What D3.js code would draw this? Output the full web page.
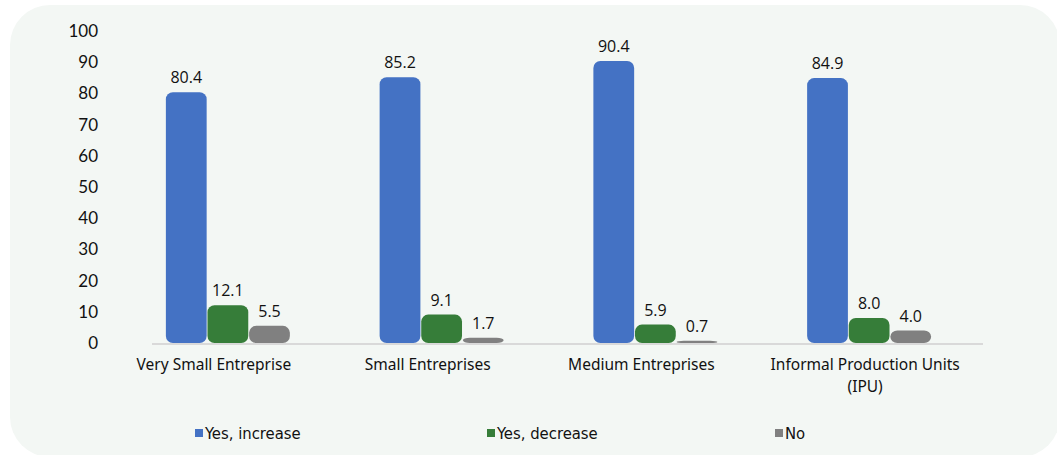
<!DOCTYPE html>
<html>
<head>
<meta charset="utf-8">
<script src="https://cdn.jsdelivr.net/npm/d3@7"></script>
<style>
  body { margin: 0; background: #ffffff; }
  svg { display: block; }
</style>
</head>
<body>
<svg id="chart"></svg>
<script>
// data
const categories = ['Very Small Entreprise', 'Small Entreprises', 'Medium Entreprises', 'Informal Production Units (IPU)'];
const seriesNames = ['Yes, increase', 'Yes, decrease', 'No'];
const increase = [80.4, 85.2, 90.4, 84.9];
const decrease = [12.1, 9.1, 5.9, 8.0];
const no = [5.5, 1.7, 0.7, 4.0];
const yTicks = [0, 10, 20, 30, 40, 50, 60, 70, 80, 90, 100];

const colors = ['#4472c4', '#367d39', '#808080'];

const width = 1057, height = 455;
const svg = d3.select('#chart').attr('width', width).attr('height', height);

// panel background
svg.append('rect')
    .attr('x', 10).attr('y', 5)
    .attr('width', 1050).attr('height', 452)
    .attr('rx', 40).attr('ry', 40)
    .attr('fill', '#f3f7f4');

const rows = categories.map((c, i) => ({
    group: c,
    values: [increase[i], decrease[i], no[i]]
}));

const xScale = d3.scaleBand()
    .domain(categories)
    .range([121, 976]);

const xSub = d3.scaleBand()
    .domain(seriesNames)
    .range([xScale.bandwidth() / 2 - 62, xScale.bandwidth() / 2 + 62])
    .paddingInner(0.02);

const yScale = d3.scaleLinear()
    .domain([0, 100])
    .range([343, 31]);

// y axis (labels only)
const yAxis = d3.axisLeft(yScale).tickValues(yTicks).tickSize(0).tickPadding(0);
const yG = svg.append('g')
    .attr('transform', 'translate(98,0)')
    .call(yAxis);
yG.select('.domain').remove();
yG.selectAll('text')
    .attr('font-family', 'Lato, "Open Sans", sans-serif')
    .attr('font-size', '17px')
    .attr('fill', '#111');

// baseline
svg.append('line')
    .attr('x1', 152).attr('x2', 983)
    .attr('y1', yScale(0) + 1).attr('y2', yScale(0) + 1)
    .attr('stroke', '#d9d9d9').attr('stroke-width', 2);

// bars
const groups = svg.append('g')
    .selectAll('g')
    .data(rows)
    .join('g')
    .attr('transform', d => `translate(${xScale(d.group)},0)`);

const cells = groups.selectAll('g')
    .data(d => d.values.map((v, i) => ({ key: seriesNames[i], value: v, i: i })))
    .join('g');

cells.append('rect')
    .attr('x', d => xSub(d.key))
    .attr('y', d => yScale(d.value))
    .attr('width', xSub.bandwidth())
    .attr('height', d => Math.max(2, yScale(0) - yScale(d.value)))
    .attr('rx', 7).attr('ry', 7)
    .attr('fill', d => colors[d.i]);

cells.append('text')
    .attr('x', d => xSub(d.key) + xSub.bandwidth() / 2)
    .attr('y', d => yScale(d.value) - 9)
    .attr('text-anchor', 'middle')
    .attr('font-family', '"Open Sans", sans-serif')
    .attr('font-size', '16px')
    .attr('fill', '#111')
    .text(d => d.value.toFixed(1));

// category labels
const xAxis = d3.axisBottom(xScale).tickSize(0).tickPadding(0);
const xG = svg.append('g')
    .attr('transform', `translate(0,${yScale(0)})`)
    .call(xAxis);
xG.select('.domain').remove();
xG.selectAll('text').remove();
xG.selectAll('.tick').each(function(d) {
    const t = d3.select(this).append('text')
        .attr('text-anchor', 'middle')
        .attr('font-family', '"Noto Sans", sans-serif')
        .attr('font-size', '15.5px')
        .attr('fill', '#111');
    if (d.indexOf('(IPU)') >= 0) {
        t.append('tspan').attr('x', -4).attr('y', 27).text('Informal Production Units');
        t.append('tspan').attr('x', -4).attr('y', 49).text('(IPU)');
    } else {
        t.attr('x', -14).attr('y', 27).text(d);
    }
});

// legend
const legendX = [195, 487, 775];
const legend = svg.append('g')
    .selectAll('g')
    .data(seriesNames)
    .join('g')
    .attr('transform', (d, i) => `translate(${legendX[i]},433)`);

legend.append('rect')
    .attr('x', 0).attr('y', -4)
    .attr('width', 8).attr('height', 8)
    .attr('fill', (d, i) => colors[i]);

legend.append('text')
    .attr('x', 10).attr('y', 6)
    .attr('font-family', '"Liberation Sans Narrow", "DejaVu Sans Condensed", sans-serif')
    .attr('font-size', '16.5px')
    .attr('fill', '#111')
    .text(d => d);
</script>
</body>
</html>
